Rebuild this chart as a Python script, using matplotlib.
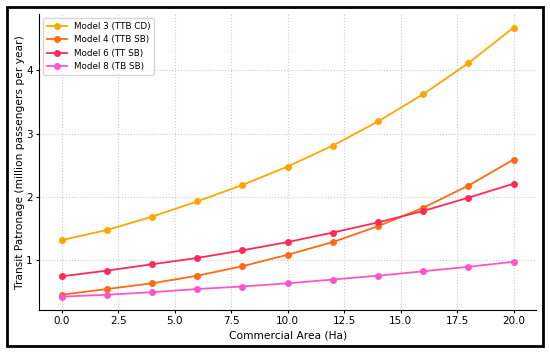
import numpy as np
import matplotlib.pyplot as plt
from matplotlib.patches import Rectangle

area = np.array([0, 2, 4, 6, 8, 10, 12, 14, 16, 18, 20])

model3 = [1.32, 1.48, 1.69, 1.93, 2.19, 2.48, 2.81, 3.19, 3.62, 4.11, 4.67]
model4 = [0.46, 0.55, 0.64, 0.76, 0.91, 1.09, 1.29, 1.54, 1.83, 2.18, 2.59]
model6 = [0.75, 0.84, 0.94, 1.04, 1.16, 1.29, 1.44, 1.60, 1.78, 1.99, 2.21]
model8 = [0.43, 0.46, 0.50, 0.55, 0.59, 0.64, 0.70, 0.76, 0.83, 0.90, 0.98]

labels = ["Model 3 (TTB CD)", "Model 4 (TTB SB)", "Model 6 (TT SB)", "Model 8 (TB SB)"]
colors = ["#FFA500", "#FF6A13", "#FF2A55", "#FF55CC"]

fig = plt.figure(figsize=(5.5, 3.52), dpi=100)
ax = fig.add_axes([0.071, 0.119, 0.904, 0.841])

for ys, lab, c in zip([model3, model4, model6, model8], labels, colors):
    ax.plot(area, ys, marker='o', markersize=4, linewidth=1.3, color=c, label=lab)

ax.grid(True, linestyle=':', color='#cccccc', linewidth=0.8)
ax.spines['top'].set_visible(False)
ax.spines['right'].set_visible(False)
ax.tick_params(labelsize=7.5, length=2, pad=2.5)
ax.set_xlabel("Commercial Area (Ha)", fontsize=7.7, labelpad=3)
ax.set_ylabel("Transit Patronage (million passengers per year)", fontsize=7.7, labelpad=1)
ax.legend(loc='upper left', fontsize=6.3, frameon=True, handlelength=2.3)

# black frame around the whole figure
fig.patches.append(Rectangle((0.013, 0.017), 0.974, 0.963, transform=fig.transFigure,
                             fill=False, edgecolor='black', linewidth=2))

fig.savefig("out.png")
